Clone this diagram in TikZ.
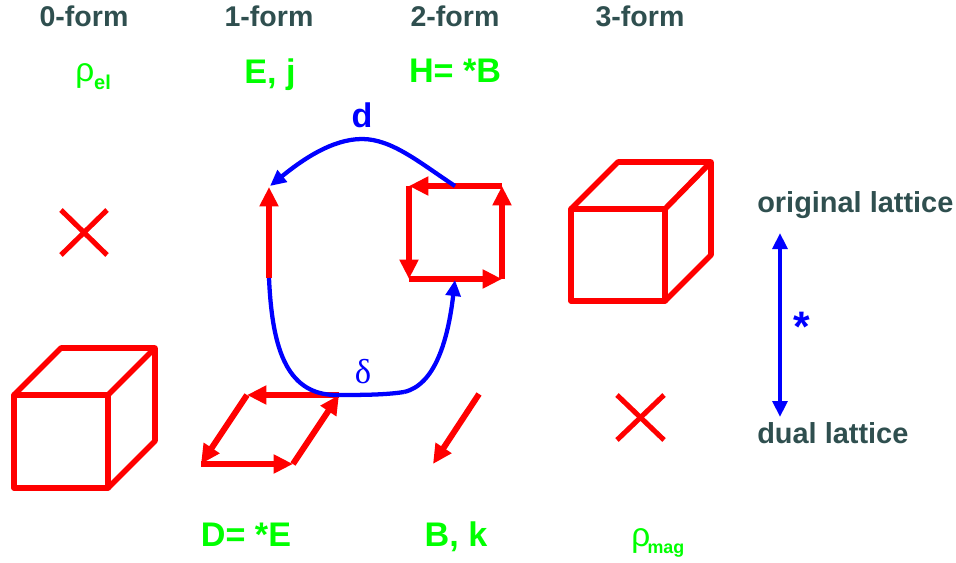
\documentclass[tikz,border=0pt]{standalone}
\usepackage{fontspec}
\setmainfont{Liberation Sans}
\newfontfamily\deltafont{Liberation Serif}
\usepackage{tikz}
\usetikzlibrary{arrows.meta,positioning}
\usepackage{xcolor}
\definecolor{FormGrey}{RGB}{47,79,79}
\definecolor{FieldGreen}{RGB}{0,255,0}
\definecolor{LatRed}{RGB}{255,0,0}
\definecolor{OpBlue}{RGB}{0,0,255}

\begin{document}
\begin{tikzpicture}[
  x=0.75pt,y=-0.75pt,
  formlbl/.style={anchor=base,inner sep=0pt,text=FormGrey,font=\fontsize{21.4}{25}\selectfont\bfseries},
  latlbl/.style={anchor=base west,inner sep=0pt,text=FormGrey,font=\fontsize{21.7}{25}\selectfont\bfseries},
  fieldlbl/.style={anchor=base,inner sep=0pt,text=FieldGreen,font=\fontsize{25.6}{30}\selectfont\bfseries},
  rholbl/.style={anchor=base west,inner sep=0pt,text=FieldGreen,font=\fontsize{25}{28}\selectfont},
  oplbl/.style={anchor=base,inner sep=0pt,text=OpBlue},
  redarr/.style={-{Triangle[length=14.5pt,width=13.5pt]},LatRed,line width=4.5pt},
  bluearr/.style={-{Triangle[length=12pt,width=11pt]},OpBlue,line width=3.2pt},
  cubeline/.style={LatRed,line width=4.2pt,line join=round},
  crossline/.style={LatRed,line width=3.8pt},
]
\useasboundingbox (0,0) rectangle (956,563);

\node[formlbl] (zero) at (84,27) {0-form};
\node[formlbl] (one) at (269,27) {1-form};
\node[formlbl] (two) at (455,27) {2-form};
\node[formlbl] (three) at (640,27) {3-form};

\node[rholbl] (rhoel) at (75,82) {ρ\raisebox{-6pt}{\fontsize{15}{18}\selectfont\bfseries el}};
\node[fieldlbl] (ej) at (270,84) {E, j};
\node[fieldlbl] (hb) at (455,83) {H= *B};
\node[fieldlbl] (de) at (246,546) {D= *E};
\node[fieldlbl] (bk) at (456,546) {B, k};
\node[rholbl] (rhomag) at (631,546) {ρ\kern-2pt\raisebox{-5.5pt}{\fontsize{13.4}{16}\selectfont\bfseries mag}};

\node[latlbl] (orig) at (757,212) {original lattice};
\node[latlbl] (dual) at (757,443) {dual lattice};
\node[oplbl,font=\fontsize{25.6}{30}\selectfont\bfseries] (dlbl) at (362,128) {d};
\node[oplbl,font=\fontsize{26}{30}\selectfont\deltafont] (deltalbl) at (363,383) {δ};
\node[oplbl,font=\fontsize{32}{36}\selectfont\bfseries] (starlbl) at (802,341) {*};

\coordinate (lf) at (14,395);
\coordinate (lg) at (108,395);
\coordinate (lh) at (108,488);
\coordinate (li) at (14,488);
\coordinate (lj) at (61,348);
\coordinate (lk) at (155,348);
\coordinate (ll) at (155,441);
\draw[cubeline] (lf) -- (lg) -- (lh) -- (li) -- cycle;
\draw[cubeline] (lf) -- (lj) -- (lk) -- (ll) -- (lh);
\draw[cubeline] (lg) -- (lk);

\coordinate (rf) at (571,209);
\coordinate (rg) at (665,209);
\coordinate (rh) at (665,301);
\coordinate (ri) at (571,301);
\coordinate (rj) at (618,162);
\coordinate (rk) at (711,162);
\coordinate (rl) at (711,255);
\draw[cubeline] (rf) -- (rg) -- (rh) -- (ri) -- cycle;
\draw[cubeline] (rf) -- (rj) -- (rk) -- (rl) -- (rh);
\draw[cubeline] (rg) -- (rk);

\draw[crossline] (61,210) -- (107,255);
\draw[crossline] (107,210) -- (61,255);
\draw[crossline] (617,395) -- (664,440);
\draw[crossline] (664,395) -- (617,440);

\coordinate (ea) at (269,278);
\coordinate (eb) at (269,187);
\coordinate (sa) at (409,186);
\coordinate (sb) at (502,186);
\coordinate (sc) at (502,279);
\coordinate (sd) at (409,279);
\coordinate (pa) at (339,395);
\coordinate (pb) at (247,395);
\coordinate (pc) at (201,464);
\coordinate (pd) at (293,464);
\coordinate (ba) at (479,394);
\coordinate (bb) at (433,464);
\foreach \a/\b in {ea/eb,sb/sa,sa/sd,sd/sc,sc/sb,pa/pb,pb/pc,pc/pd,pd/pa,ba/bb}
  \draw[redarr] (\a) -- (\b);

\coordinate (dstart) at (455,186);
\coordinate (dtop) at (362,139);
\coordinate (dend) at (270,186);
\coordinate (dlow) at (335,395);
\coordinate (dbend) at (404,392);
\coordinate (dtip) at (455,280);
\draw[OpBlue,line width=3.2pt] (dstart) .. controls (420,163) and (392,139) .. (dtop);
\draw[bluearr] (dtop) .. controls (332,139) and (302,160) .. (dend);
\draw[OpBlue,line width=3.2pt] (ea) .. controls (272,345) and (285,394) .. (dlow)
  .. controls (360,395) and (385,395) .. (dbend);
\draw[bluearr] (dbend) .. controls (435,385) and (448,340) .. (dtip);

\coordinate (ltop) at (780,233);
\coordinate (lbot) at (780,417);
\draw[{Triangle[length=12pt,width=11pt]}-{Triangle[length=12pt,width=11pt]},OpBlue,line width=3.4pt] (ltop) -- (lbot);
\end{tikzpicture}
\end{document}
